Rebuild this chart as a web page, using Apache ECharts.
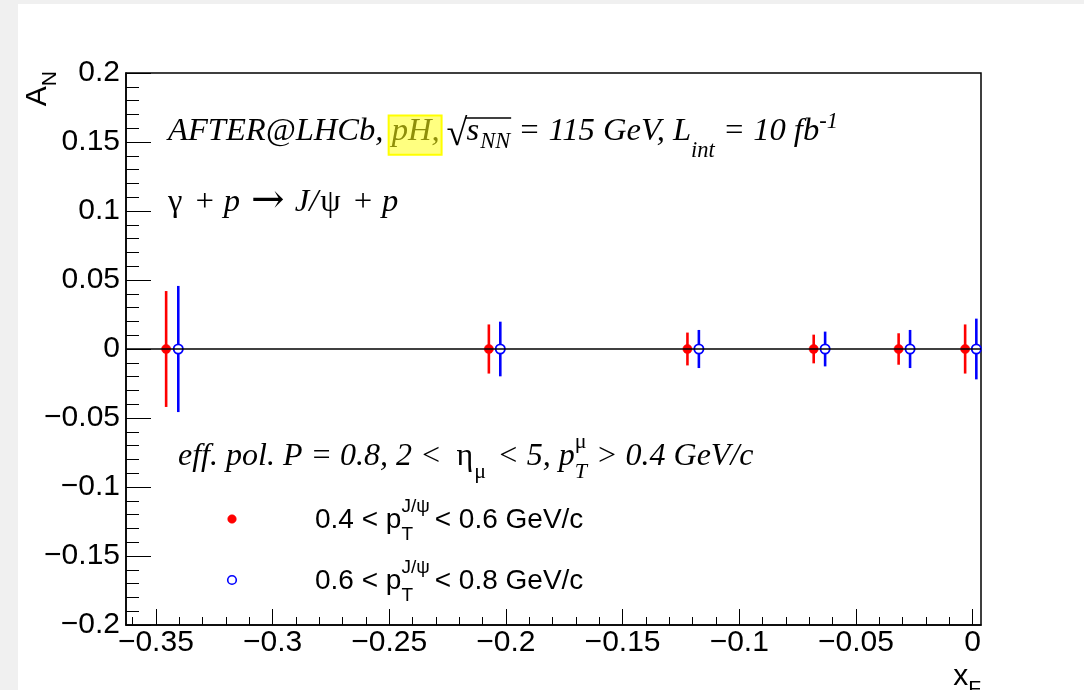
<!DOCTYPE html>
<html>
<head>
<meta charset="utf-8">
<script src="https://cdn.jsdelivr.net/npm/echarts@6/dist/echarts.min.js"></script>
<style>
html,body{margin:0;padding:0;background:#fff;}
#c{width:1084px;height:690px;}
</style>
</head>
<body>
<div id="c"></div>
<script>
// ---- data ----
const xRed   = [-0.3456, -0.2073, -0.1222, -0.0681, -0.0317, -0.0032];
const yRed   = [0, 0, 0, 0, 0, 0];
const errRed = [0.0420, 0.0178, 0.0119, 0.0104, 0.0114, 0.0178];
const xBlue   = [-0.3404, -0.2024, -0.1173, -0.0632, -0.0268, 0.0016];
const yBlue   = [0, 0, 0, 0, 0, 0];
const errBlue = [0.0457, 0.0198, 0.0138, 0.0126, 0.0138, 0.0220];
const xMajorTicks = [-0.35, -0.3, -0.25, -0.2, -0.15, -0.1, -0.05, 0];
const xMinorTicks = [-0.36, -0.34, -0.33, -0.32, -0.31, -0.29, -0.28, -0.27, -0.26, -0.24, -0.23, -0.22, -0.21,
                     -0.19, -0.18, -0.17, -0.16, -0.14, -0.13, -0.12, -0.11, -0.09, -0.08, -0.07, -0.06,
                     -0.04, -0.03, -0.02, -0.01];
const yMajorTicks = [-0.2, -0.15, -0.1, -0.05, 0, 0.05, 0.1, 0.15, 0.2];
const xRange = [-0.3628, 0.0036];
const yRange = [-0.2, 0.2];

const fmt = v => { const r = Math.round(v * 1000) / 1000; return r === 0 ? '0' : (r < 0 ? '\u2212' + Math.abs(r) : String(r)); };

// ---- text layout helper (sub/superscripts) ----
const mctx = document.createElement('canvas').getContext('2d');
const K = 0.345;
function fontOf(s) {
  return (s.it ? 'italic ' : '') + s.size + 'px ' + (s.fam ? s.fam : (s.serif ? '"Liberation Serif"' : '"Liberation Sans"'));
}
function place(x, base, s, out) {
  const font = fontOf(s);
  mctx.font = font;
  const w = mctx.measureText(s.t).width;
  const b = base + (s.dy || 0);
  if (s.box) {
    out.push({type: 'rect', z: 5, shape: {x: x - 3, y: b - s.size * 0.84, width: w + 5, height: s.size * 1.2},
      style: {fill: '#ffff80', stroke: '#ffff00', lineWidth: 2}});
  }
  out.push({type: 'text', z: 6, x: x, y: b - K * s.size,
    style: {text: s.t, font: font, fill: s.color || '#000', align: 'left', verticalAlign: 'middle'}});
  return w;
}
function layout(x0, base, segs) {
  let x = x0; const out = [];
  const marks = {};
  for (const s of segs) {
    if (s.mark) marks[s.mark] = x;
    if (s.stack) {
      let w = 0;
      for (const t of s.stack) w = Math.max(w, place(x, base, t, out));
      x += w + (s.gap || 0);
    } else {
      x += place(x, base, s, out) + (s.gap || 0);
    }
    if (s.markEnd) marks[s.markEnd] = x;
  }
  return {els: out, end: x, marks: marks};
}

const S = 32.6, SS = 22.5;
const mk = (size, it) => (t, o) => Object.assign({t: t, size: size, serif: true, it: it}, o || {});
const serifIt = mk(S, true), serifUp = mk(S, false);
const s3It = mk(32, true), s3Up = mk(32, false);

const line1 = layout(168, 143, [
  serifIt('AFTER@LHCb, '),
  serifIt('pH,', {box: true, color: '#8e8e0a', gap: 7}),
  serifUp('\u221A', {markEnd: 'sq0', size: 38, dy: 5, gap: -1}),
  serifIt('s', {gap: 1}),
  serifIt('NN', {size: SS, dy: 7, markEnd: 'sq1'}),
  serifIt(' = 115 GeV, L'),
  serifIt('int', {size: SS, dy: 16}),
  serifIt(' = 10 fb'),
  serifIt('-1', {size: SS, dy: -13})
]);
const sqrtBar = {type: 'line', z: 6, shape: {x1: line1.marks.sq0 - 1, y1: 118, x2: line1.marks.sq1 + 1, y2: 118},
  style: {stroke: '#000', lineWidth: 1.3}};

const line2 = layout(168, 214, [
  serifUp('\u03B3', {gap: 3}), serifIt(' + '), serifIt('p ', {gap: 3}),
  serifUp('\u2192', {size: 40, fam: '"DejaVu Serif"', dy: 1, gap: 2}),
  serifIt(' J/', {gap: 2}), serifUp('\u03C8', {gap: 3}), serifIt(' + '), serifIt('p')
]);

const line3 = layout(178, 468, [
  s3It('eff. pol. P = 0.8, 2 < ', {gap: 7}),
  s3Up('\u03B7', {gap: 1}),
  s3Up('\u03BC', {size: 22, dy: 12, gap: 3}),
  s3It(' < 5, p'),
  {stack: [s3It('T', {size: 22, dy: 12}), s3Up('\u03BC', {size: 22, dy: -18})], gap: 1},
  s3It(' > 0.4 GeV/c')
]);

const LS = 28, LSS = 19;
const sans = (t, o) => Object.assign({t: t, size: LS, serif: false, it: false}, o || {});
function legendText(base, lo, hi) {
  return layout(315, base, [
    sans(lo + ' < p'),
    {stack: [sans('T', {size: LSS, dy: 11}), sans('J/\u03C8', {size: LSS, dy: -17})], gap: 5},
    sans('< ' + hi + ' GeV/c')
  ]);
}
const leg1 = legendText(530, '0.4', '0.6');
const leg2 = legendText(591, '0.6', '0.8');

// axis titles
const xTitle = layout(0, 0, [sans('x', {size: 30}), sans('F', {size: 21, dy: 9})]);
const xTitleGroup = {type: 'group', x: 981 - xTitle.end, y: 687, children: xTitle.els};
const yTitle = layout(0, 0, [sans('A', {size: 30}), sans('N', {size: 21, dy: 9})]);
const yTitleGroup = {type: 'group', x: 48, y: 71 + yTitle.end, rotation: Math.PI / 2, children: yTitle.els};

// ---- series helpers ----
function toData(xs, ys, es) { return xs.map((x, i) => [x, ys[i], es[i]]); }
function errRender(color, filled) {
  return function (params, api) {
    const x = api.value(0), y = api.value(1), e = api.value(2);
    const c = api.coord([x, y]);
    const t = api.coord([x, y + e]);
    const b = api.coord([x, y - e]);
    return {type: 'group', children: [
      {type: 'line', shape: {x1: c[0], y1: t[1], x2: c[0], y2: b[1]}, style: {stroke: color, lineWidth: 2.6}},
      {type: 'circle', shape: {cx: c[0], cy: c[1], r: 4.6},
        style: {fill: filled ? color : '#fff', stroke: color, lineWidth: filled ? 0.5 : 1.8}}
    ]};
  };
}

const chart = echarts.init(document.getElementById('c'), null, {renderer: 'canvas'});
const axisLineStyle = {color: '#000', width: 1.5};
chart.setOption({
  animation: false,
  backgroundColor: '#fff',
  grid: {left: 126, right: 103, top: 73, bottom: 65, show: true, borderColor: '#000', borderWidth: 1.5, backgroundColor: 'transparent'},
  xAxis: [{
    type: 'value', min: xRange[0], max: xRange[1], position: 'bottom',
    axisLine: {show: true, onZero: false, lineStyle: axisLineStyle},
    axisTick: {show: true, inside: true, length: 16, customValues: xMajorTicks, lineStyle: {color: '#000', width: 1}},
    axisLabel: {show: true, customValues: xMajorTicks, formatter: fmt, margin: 3, color: '#000',
      fontFamily: 'Liberation Sans', fontSize: 30},
    splitLine: {show: false}
  }, {
    type: 'value', min: xRange[0], max: xRange[1], position: 'bottom', offset: 0,
    axisLine: {show: false, onZero: false},
    axisTick: {show: true, inside: true, length: 8, customValues: xMinorTicks, lineStyle: {color: '#000', width: 1}},
    axisLabel: {show: false},
    splitLine: {show: false}
  }],
  yAxis: [{
    type: 'value', min: yRange[0], max: yRange[1], interval: 0.05,
    axisLine: {show: true, onZero: false, lineStyle: axisLineStyle},
    axisTick: {show: true, inside: true, length: 25, lineStyle: {color: '#000', width: 1}},
    minorTick: {show: true, splitNumber: 5, length: 13, lineStyle: {color: '#000', width: 1}},
    axisLabel: {show: true, customValues: yMajorTicks, formatter: fmt, margin: 6, color: '#000',
      fontFamily: 'Liberation Sans', fontSize: 30},
    splitLine: {show: false}
  }],
  series: [{
    type: 'line', data: [], z: 1, silent: true,
    markLine: {silent: true, symbol: ['none', 'none'], label: {show: false},
      lineStyle: {color: '#000', width: 1.5, type: 'solid'}, data: [{yAxis: 0}]}
  }, {
    name: 'red', type: 'custom', z: 3, renderItem: errRender('#ff0000', true),
    encode: {x: 0, y: 1}, data: toData(xRed, yRed, errRed)
  }, {
    name: 'blue', type: 'custom', z: 4, renderItem: errRender('#0000ff', false),
    encode: {x: 0, y: 1}, data: toData(xBlue, yBlue, errBlue)
  }],
  graphic: [
    {type: 'rect', z: 0, shape: {x: 0, y: 0, width: 18, height: 690}, style: {fill: '#f0f0f0'}},
    {type: 'rect', z: 0, shape: {x: 0, y: 0, width: 1084, height: 4}, style: {fill: '#f0f0f0'}},
    {type: 'circle', z: 6, shape: {cx: 232, cy: 519, r: 4.3}, style: {fill: '#ff0000', stroke: '#ff0000', lineWidth: 0.5}},
    {type: 'circle', z: 6, shape: {cx: 232, cy: 580, r: 4.3}, style: {fill: '#fff', stroke: '#0000ff', lineWidth: 1.6}},
    sqrtBar, xTitleGroup, yTitleGroup
  ].concat(line1.els, line2.els, line3.els, leg1.els, leg2.els)
});
</script>
</body>
</html>
